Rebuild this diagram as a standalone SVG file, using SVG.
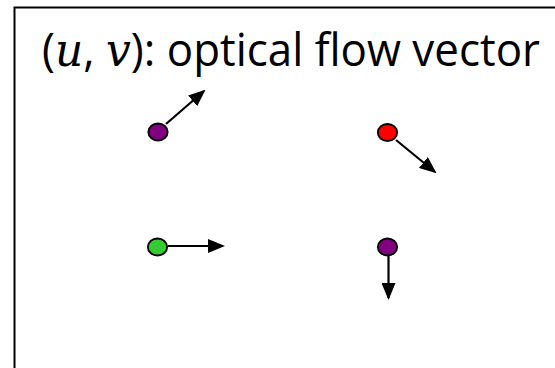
<svg xmlns="http://www.w3.org/2000/svg" width="555" height="368" viewBox="0 0 555 368">
<style>
.pt{stroke:#000;stroke-width:1.8}
.vec{stroke:#000;stroke-width:2.2;fill:none;marker-end:url(#ah)}
.title{font-family:"Open Sans","Liberation Sans",sans-serif;font-size:46px;fill:#000}
.m{font-family:"DejaVu Serif","Liberation Serif",serif;font-style:italic}
</style>
<defs>
<marker id="ah" markerUnits="userSpaceOnUse" markerWidth="17" markerHeight="14" refX="15" refY="7" orient="auto" viewBox="0 0 17 14">
<path d="M0,0 L17,7 L0,14 z" fill="#000"/>
</marker>
</defs>
<rect x="14.5" y="7.5" width="560" height="380" fill="#fff" stroke="#000" stroke-width="2"/>
<text class="title" x="42" y="66" textLength="498" lengthAdjust="spacingAndGlyphs">(<tspan class="m">u</tspan>, <tspan class="m">v</tspan>): optical flow vector</text>
<g id="connectors">
<line class="vec" x1="166" y1="124" x2="204" y2="91"/>
<line class="vec" x1="396" y1="140" x2="435" y2="172"/>
<line class="vec" x1="168" y1="246" x2="223" y2="246"/>
<line class="vec" x1="388.5" y1="256" x2="388.5" y2="298"/>
</g>
<g id="p1"><ellipse class="pt" cx="158" cy="132" rx="9.7" ry="8.5" fill="#800080"/></g>
<g id="p2"><ellipse class="pt" cx="387.5" cy="132.5" rx="9.7" ry="8.5" fill="#ff0000"/></g>
<g id="p3"><ellipse class="pt" cx="157.5" cy="247" rx="9.7" ry="8.5" fill="#33cc33"/></g>
<g id="p4"><ellipse class="pt" cx="387.5" cy="247" rx="9.7" ry="8.5" fill="#800080"/></g>
</svg>
